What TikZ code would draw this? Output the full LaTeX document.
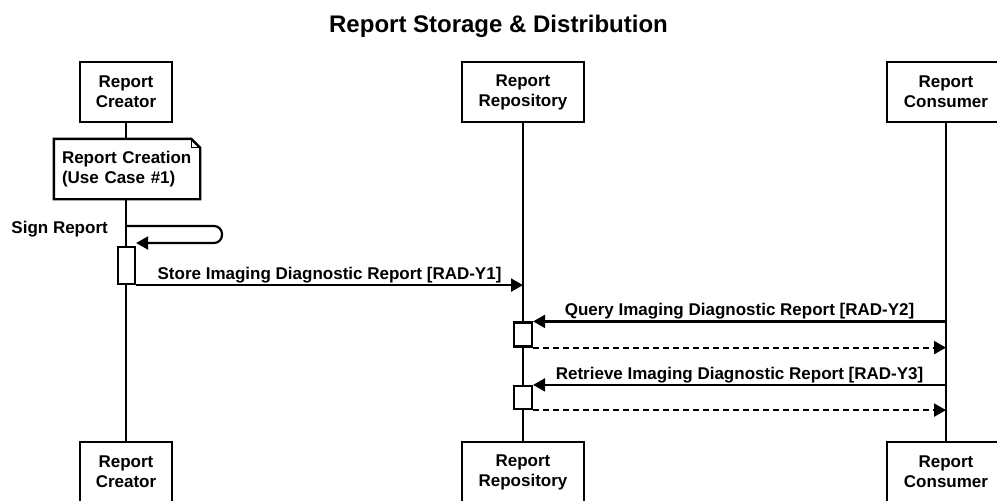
\documentclass[tikz,border=0pt]{standalone}
\usepackage{fontspec}
\setmainfont{Liberation Sans}
\usetikzlibrary{arrows.meta}
\begin{document}
\begin{tikzpicture}[x=1pt,y=-1pt,
  txt/.style={font=\fontsize{17}{20}\selectfont\bfseries},
  actor/.style={draw, line width=2.4pt, fill=white, inner sep=0pt, minimum height=60pt, align=center, txt},
  life/.style={line width=2.2pt},
  act/.style={draw, line width=2.2pt, fill=white, inner sep=0pt, minimum width=17pt},
  msg/.style={line width=2.2pt, -{Triangle[length=12pt,width=13pt]}},
  ret/.style={msg, dash pattern=on 6pt off 4pt},
  lbl/.style={txt, inner sep=1pt, above}
]
\useasboundingbox (0,0) rectangle (997,501);
\clip (0,0) rectangle (997,501);
\fill[white] (0,0) rectangle (997,501);

% title
\node[font=\fontsize{24}{28}\selectfont\bfseries, anchor=base] (title) at (498.5,32) {Report Storage \& Distribution};

% actors top
\node[actor, minimum width=92pt] (a1) at (126,92) {Report\\Creator};
\node[actor, minimum width=122pt] (b1) at (523,92) {Report\\Repository};
\node[actor, minimum width=118pt] (c1) at (946,92) {Report\\Consumer};
% actors bottom
\node[actor, minimum width=92pt] (a2) at (126,472) {Report\\Creator};
\node[actor, minimum width=122pt] (b2) at (523,472) {Report\\Repository};
\node[actor, minimum width=118pt] (c2) at (946,472) {Report\\Consumer};

% lifelines
\draw[life] (a1) -- (a2);
\draw[life] (b1) -- (b2);
\draw[life] (c1) -- (c2);

% note
\node[fill=white, inner xsep=8pt, inner ysep=0pt, minimum width=146pt, minimum height=60pt, text width=130pt, align=left, txt] (note) at (127,169) {Report Creation\\(Use Case \#1)};
\draw[line width=2.4pt, line join=miter] (note.north west) -- ([xshift=-9pt]note.north east) -- ([yshift=-9pt]note.north east) -- (note.south east) -- (note.south west) -- cycle;
\draw[line width=1pt] ([xshift=-9pt]note.north east) -- ([xshift=-9pt,yshift=-9pt]note.north east) -- ([yshift=-9pt]note.north east);

% activations
\node[act, minimum height=37pt] (act1) at (126.5,265.5) {};
\node[act, minimum width=18pt, minimum height=24pt] (actQ) at (523,334.5) {};
\node[act, minimum width=18pt, minimum height=23pt] (actR) at (523,397.5) {};

% self message
\coordinate (s0) at (126,226);
\coordinate (s1) at (222,226);
\coordinate (s2) at (222,243);
\node[txt, anchor=base east, inner sep=0pt] (sign) at (108,233) {Sign Report};
\draw[msg, rounded corners=8pt] (s0) -- (s1) -- (s2) -- (act1.east |- s2);

% store
\draw[msg] (act1.south east) -- (act1.south east -| b1) node[lbl, midway] (l1) {Store Imaging Diagnostic Report [RAD-Y1]};

% query
\draw[msg] (actQ.north east -| c1) -- (actQ.north east) node[lbl, midway] (l2) {Query Imaging Diagnostic Report [RAD-Y2]};
\draw[ret] (actQ.south east) -- (actQ.south east -| c1);

% retrieve
\draw[msg] (actR.north east -| c1) -- (actR.north east) node[lbl, midway] (l3) {Retrieve Imaging Diagnostic Report [RAD-Y3]};
\draw[ret] (actR.south east) -- (actR.south east -| c1);
\end{tikzpicture}
\end{document}
